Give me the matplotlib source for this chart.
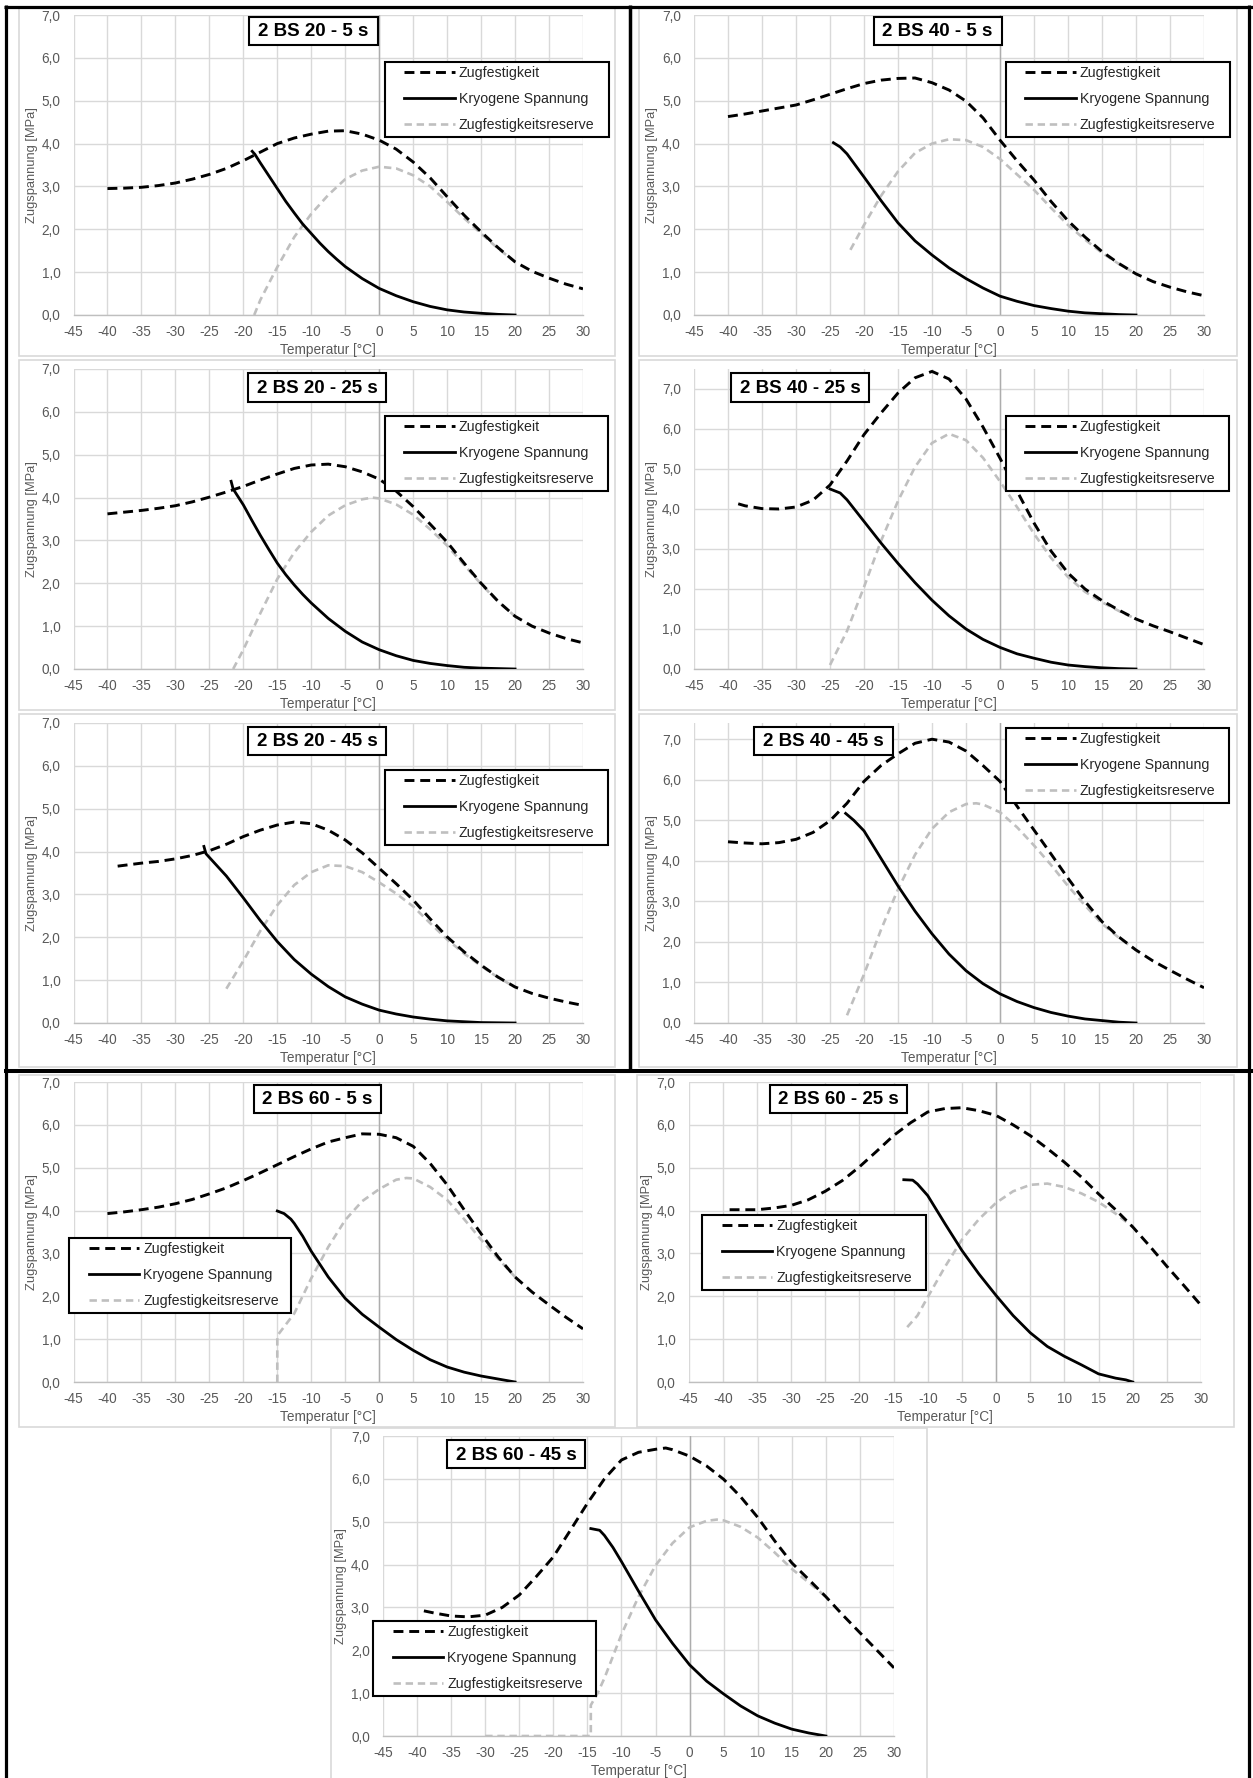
import matplotlib
matplotlib.use("Agg")
import matplotlib.pyplot as plt
from matplotlib.patches import Rectangle
from matplotlib.lines import Line2D
from matplotlib.legend_handler import HandlerLine2D

W, H = 1253, 1778
plt.rcParams["font.family"] = ["Liberation Sans", "DejaVu Sans"]

# -------------------------
# Data (temperature in degC, stress in MPa)
# ZF = Zugfestigkeit, KS = Kryogene Spannung, ZR = Zugfestigkeitsreserve
# -------------------------
T_ZF_STD = [-40, -37.5, -35, -32.5, -30, -27.5, -25, -22.5, -20, -17.5, -15, -12.5, -10,
            -7.5, -5, -2.5, 0, 2.5, 5, 7.5, 10, 12.5, 15, 17.5, 20, 22.5, 25, 27.5, 30]

# 2 BS 20 - 5 s
ZF_20_5 = [2.95, 2.96, 2.98, 3.02, 3.08, 3.17, 3.28, 3.42, 3.6, 3.8, 4.0, 4.13, 4.22,
           4.29, 4.3, 4.22, 4.08, 3.87, 3.57, 3.2, 2.76, 2.33, 1.94, 1.57, 1.24, 1.02, 0.86, 0.72, 0.61]
T_KS_20_5 = [-18.7, -18.3, -17.5, -16.25, -15, -13.75, -12.5, -11.25, -10, -8.75, -7.5, -6.25, -5,
             -2.5, 0, 2.5, 5, 7.5, 10, 12.5, 15, 17.5, 20]
KS_20_5 = [3.82, 3.75, 3.55, 3.25, 2.95, 2.65, 2.38, 2.12, 1.9, 1.68, 1.48, 1.3, 1.13,
           0.85, 0.62, 0.45, 0.31, 0.2, 0.12, 0.07, 0.04, 0.015, 0]
T_ZR_20_5 = [-18.4, -17.5, -15, -12.5, -10, -7.5, -5, -2.5, 0, 2.5, 5, 7.5, 10, 12.5, 15, 17.5, 20]
ZR_20_5 = [0, 0.35, 1.12, 1.82, 2.36, 2.8, 3.17, 3.37, 3.46, 3.42, 3.26, 3.0, 2.64, 2.26, 1.9, 1.55, 1.24]

# 2 BS 20 - 25 s
ZF_20_25 = [3.62, 3.66, 3.7, 3.75, 3.81, 3.9, 4.01, 4.13, 4.26, 4.41, 4.55, 4.68, 4.76,
            4.78, 4.72, 4.6, 4.43, 4.15, 3.79, 3.38, 2.96, 2.47, 2.0, 1.58, 1.23, 1.0, 0.84, 0.71, 0.61]
T_KS_20_25 = [-21.8, -21.5, -20, -18.75, -17.5, -16.25, -15, -13.75, -12.5, -11.25, -10, -7.5, -5,
              -2.5, 0, 2.5, 5, 7.5, 10, 12.5, 15, 17.5, 20]
KS_20_25 = [4.38, 4.2, 3.83, 3.47, 3.12, 2.79, 2.47, 2.2, 1.96, 1.74, 1.54, 1.18, 0.88,
            0.63, 0.45, 0.31, 0.2, 0.13, 0.08, 0.04, 0.02, 0.01, 0]
T_ZR_20_25 = [-21.5, -20, -17.5, -15, -12.5, -10, -7.5, -5, -2.5, -1, 0, 2.5, 5, 7.5, 10, 12.5, 15, 17.5, 20]
ZR_20_25 = [0, 0.45, 1.3, 2.1, 2.72, 3.2, 3.58, 3.82, 3.96, 4.0, 3.98, 3.84, 3.6, 3.26, 2.88, 2.43, 1.98, 1.57, 1.23]

# 2 BS 20 - 45 s
T_ZF_20_45 = [-38.5] + T_ZF_STD[2:]
ZF_20_45 = [3.66, 3.73, 3.77, 3.83, 3.91, 4.02, 4.17, 4.35, 4.5, 4.62, 4.69, 4.65,
            4.5, 4.27, 3.97, 3.61, 3.25, 2.87, 2.43, 2.01, 1.66, 1.35, 1.07, 0.84, 0.69, 0.58, 0.49, 0.41]
T_KS_20_45 = [-25.8, -25.5, -22.5, -20, -17.5, -15, -12.5, -10, -7.5, -5, -2.5, 0, 2.5, 5, 7.5, 10, 12.5, 15, 20]
KS_20_45 = [4.12, 3.95, 3.43, 2.92, 2.39, 1.9, 1.48, 1.14, 0.85, 0.61, 0.44, 0.3, 0.21, 0.14, 0.09, 0.05, 0.03, 0.01, 0]
T_ZR_20_45 = [-22.5, -20, -17.5, -15, -12.5, -10, -7.5, -5, -2.5, 0, 2.5, 5, 7.5, 10, 12.5, 15, 17.5, 20]
ZR_20_45 = [0.8, 1.45, 2.15, 2.75, 3.22, 3.52, 3.68, 3.66, 3.52, 3.28, 3.02, 2.72, 2.33, 1.95, 1.62, 1.33, 1.06, 0.84]

# 2 BS 40 - 5 s
ZF_40_5 = [4.63, 4.69, 4.76, 4.83, 4.9, 5.02, 5.15, 5.28, 5.4, 5.48, 5.52, 5.53, 5.42,
           5.25, 4.99, 4.6, 4.08, 3.6, 3.15, 2.65, 2.2, 1.82, 1.48, 1.2, 0.96, 0.78, 0.65, 0.54, 0.45]
T_KS_40_5 = [-24.5, -23.5, -22.5, -20, -17.5, -15, -12.5, -10, -7.5, -5, -2.5, 0, 2.5, 5, 7.5, 10, 12.5, 15, 17.5, 20]
KS_40_5 = [4.02, 3.92, 3.76, 3.22, 2.67, 2.15, 1.73, 1.4, 1.1, 0.85, 0.63, 0.44, 0.32, 0.22, 0.15, 0.09, 0.05, 0.03, 0.01, 0]
T_ZR_40_5 = [-22, -20, -17.5, -15, -12.5, -10, -7.5, -5, -2.5, 0, 2.5, 5, 7.5, 10, 12.5, 15, 17.5, 20]
ZR_40_5 = [1.52, 2.1, 2.78, 3.35, 3.78, 4.0, 4.1, 4.08, 3.92, 3.64, 3.28, 2.92, 2.5, 2.1, 1.76, 1.45, 1.19, 0.96]

# 2 BS 40 - 25 s
T_ZF_40_25 = [-38.5] + T_ZF_STD[1:]
ZF_40_25 = [4.13, 4.08, 4.01, 4.0, 4.05, 4.22, 4.6, 5.2, 5.86, 6.4, 6.9, 7.28, 7.44,
            7.25, 6.75, 6.05, 5.27, 4.45, 3.65, 2.95, 2.4, 2.0, 1.71, 1.47, 1.25, 1.08, 0.93, 0.77, 0.61]
T_KS_40_25 = [-25, -23.5, -22.5, -20, -17.5, -15, -12.5, -10, -7.5, -5, -2.5, 0, 2.5, 5, 7.5, 10, 12.5, 15, 17.5, 20]
KS_40_25 = [4.5, 4.4, 4.23, 3.69, 3.15, 2.64, 2.16, 1.72, 1.33, 1.0, 0.74, 0.54, 0.38, 0.27, 0.17, 0.1, 0.06, 0.03, 0.01, 0]
T_ZR_40_25 = [-25, -22.5, -20, -17.5, -15, -12.5, -10, -7.5, -5, -2.5, 0, 2.5, 5, 7.5, 10, 12.5, 15, 17.5, 20]
ZR_40_25 = [0.1, 0.95, 2.05, 3.2, 4.2, 5.05, 5.65, 5.88, 5.72, 5.28, 4.69, 4.05, 3.38, 2.78, 2.3, 1.93, 1.67, 1.45, 1.25]

# 2 BS 40 - 45 s
ZF_40_45 = [4.47, 4.44, 4.42, 4.45, 4.53, 4.7, 4.99, 5.42, 5.96, 6.35, 6.64, 6.9, 7.0,
            6.93, 6.71, 6.35, 5.96, 5.35, 4.76, 4.17, 3.57, 3.0, 2.5, 2.12, 1.8, 1.53, 1.3, 1.08, 0.87]
T_KS_40_45 = [-22.7, -21.5, -20, -17.5, -15, -12.5, -10, -7.5, -5, -2.5, 0, 2.5, 5, 7.5, 10, 12.5, 15, 17.5, 20]
KS_40_45 = [5.17, 5.0, 4.74, 4.06, 3.38, 2.76, 2.2, 1.7, 1.29, 0.97, 0.72, 0.53, 0.38, 0.26, 0.17, 0.1, 0.06, 0.02, 0]
T_ZR_40_45 = [-22.5, -20, -17.5, -15, -12.5, -10, -7.5, -5, -3.5, -2.5, 0, 2.5, 5, 7.5, 10, 12.5, 15, 17.5, 20]
ZR_40_45 = [0.19, 1.2, 2.3, 3.3, 4.15, 4.79, 5.2, 5.4, 5.42, 5.39, 5.2, 4.83, 4.38, 3.9, 3.38, 2.9, 2.45, 2.1, 1.8]

# 2 BS 60 - 5 s
ZF_60_5 = [3.93, 3.97, 4.02, 4.08, 4.16, 4.26, 4.39, 4.53, 4.7, 4.88, 5.07, 5.26, 5.44,
           5.6, 5.7, 5.79, 5.78, 5.7, 5.5, 5.1, 4.6, 4.02, 3.46, 2.92, 2.45, 2.1, 1.8, 1.51, 1.24]
T_KS_60_5 = [-15, -14, -13, -12.5, -11.25, -10, -7.5, -5, -2.5, 0, 2.5, 5, 7.5, 10, 12.5, 15, 17.5, 20]
KS_60_5 = [3.99, 3.93, 3.8, 3.7, 3.4, 3.05, 2.45, 1.95, 1.58, 1.28, 0.99, 0.74, 0.52, 0.35, 0.23, 0.14, 0.07, 0]
T_ZR_60_5 = [-15, -15, -12.5, -10, -7.5, -5, -2.5, 0, 2.5, 4, 5, 7.5, 10, 12.5, 15, 17.5, 20]
ZR_60_5 = [0, 1.08, 1.6, 2.42, 3.15, 3.78, 4.22, 4.5, 4.72, 4.76, 4.75, 4.55, 4.25, 3.8, 3.32, 2.88, 2.45]

# 2 BS 60 - 25 s
T_ZF_60_25 = [-39] + T_ZF_STD[1:]
ZF_60_25 = [4.02, 4.02, 4.02, 4.06, 4.12, 4.25, 4.45, 4.7, 5.02, 5.38, 5.75, 6.05, 6.3,
            6.38, 6.4, 6.33, 6.22, 6.0, 5.75, 5.45, 5.13, 4.78, 4.39, 4.02, 3.62, 3.17, 2.7, 2.25, 1.79]
T_KS_60_25 = [-13.5, -12.2, -11.5, -10, -7.5, -5, -2.5, 0, 2.5, 5, 7.5, 10, 12.5, 15, 17.5, 19, 20]
KS_60_25 = [4.72, 4.71, 4.62, 4.35, 3.7, 3.07, 2.52, 2.02, 1.55, 1.15, 0.83, 0.6, 0.4, 0.19, 0.09, 0.05, 0]
T_ZR_60_25 = [-13, -11.5, -10, -7.5, -5, -2.5, 0, 2.5, 5, 7.5, 10, 12.5, 15, 17.5, 20]
ZR_60_25 = [1.28, 1.55, 1.98, 2.68, 3.32, 3.8, 4.18, 4.45, 4.6, 4.63, 4.55, 4.4, 4.2, 3.93, 3.62]

# 2 BS 60 - 45 s
T_ZF_60_45 = [-39, -37.5, -35, -32.5, -30, -27.5, -25, -22.5, -20, -17.5, -15, -12.5, -10,
              -7.5, -5, -3.5, -2.5, 0, 2.5, 5, 7.5, 10, 12.5, 15, 17.5, 20, 22.5, 25, 27.5, 30]
ZF_60_45 = [2.92, 2.87, 2.8, 2.78, 2.82, 3.0, 3.29, 3.72, 4.18, 4.8, 5.43, 6.0, 6.44,
            6.62, 6.69, 6.72, 6.68, 6.53, 6.3, 5.99, 5.58, 5.1, 4.55, 4.04, 3.65, 3.25, 2.82, 2.41, 2.0, 1.59]
T_KS_60_45 = [-14.5, -13.2, -12.5, -11.25, -10, -7.5, -5, -2.5, 0, 2.5, 5, 7.5, 10, 12.5, 15, 17.5, 20]
KS_60_45 = [4.84, 4.8, 4.68, 4.4, 4.07, 3.38, 2.71, 2.16, 1.66, 1.28, 0.98, 0.7, 0.47, 0.3, 0.16, 0.07, 0]
T_ZR_60_45 = [-30, -14.5, -14.5, -13.5, -12.5, -10, -7.5, -5, -2.5, 0, 2.5, 4, 5, 7.5, 10, 12.5, 15, 17.5, 20]
ZR_60_45 = [0, 0, 0.72, 1.0, 1.35, 2.37, 3.25, 3.98, 4.5, 4.87, 5.02, 5.05, 5.03, 4.88, 4.63, 4.28, 3.9, 3.58, 3.25]

TITLES = ["2 BS 20 - 5 s", "2 BS 20 - 25 s", "2 BS 20 - 45 s",
          "2 BS 40 - 5 s", "2 BS 40 - 25 s", "2 BS 40 - 45 s",
          "2 BS 60 - 5 s", "2 BS 60 - 25 s", "2 BS 60 - 45 s"]
LEGEND_LABELS = ["Zugfestigkeit", "Kryogene Spannung", "Zugfestigkeitsreserve"]
X_TICKS = list(range(-45, 31, 5))
Y_TICKS = [0, 1, 2, 3, 4, 5, 6, 7]
X_LABEL = "Temperatur [°C]"
Y_LABEL = "Zugspannung [MPa]"

# -------------------------
# Layout in pixels of the composite (x0, y0, x1, y1), y measured downwards
# -------------------------
SERIES = [
    (T_ZF_STD, ZF_20_5, T_KS_20_5, KS_20_5, T_ZR_20_5, ZR_20_5),
    (T_ZF_STD, ZF_20_25, T_KS_20_25, KS_20_25, T_ZR_20_25, ZR_20_25),
    (T_ZF_20_45, ZF_20_45, T_KS_20_45, KS_20_45, T_ZR_20_45, ZR_20_45),
    (T_ZF_STD, ZF_40_5, T_KS_40_5, KS_40_5, T_ZR_40_5, ZR_40_5),
    (T_ZF_40_25, ZF_40_25, T_KS_40_25, KS_40_25, T_ZR_40_25, ZR_40_25),
    (T_ZF_STD, ZF_40_45, T_KS_40_45, KS_40_45, T_ZR_40_45, ZR_40_45),
    (T_ZF_STD, ZF_60_5, T_KS_60_5, KS_60_5, T_ZR_60_5, ZR_60_5),
    (T_ZF_60_25, ZF_60_25, T_KS_60_25, KS_60_25, T_ZR_60_25, ZR_60_25),
    (T_ZF_60_45, ZF_60_45, T_KS_60_45, KS_60_45, T_ZR_60_45, ZR_60_45),
]
Y_MAX = [7, 7, 7, 7, 7.5, 7.4, 7, 7, 7]
PLOT_BOX = [(73.5, 15, 583, 315), (73.5, 369, 583, 669), (73.5, 723, 583, 1023),
            (694, 15, 1204, 315), (694, 369, 1204, 669), (694, 723, 1204, 1023),
            (73.5, 1082, 583, 1382), (688.6, 1082, 1201, 1382), (383, 1436, 894, 1736)]
CHART_BOX = [(19, 7, 615, 356), (19, 360, 615, 710), (19, 714, 615, 1067),
             (639, 7, 1237, 356), (639, 360, 1237, 710), (639, 714, 1237, 1067),
             (19, 1075, 615, 1427), (637, 1075, 1234, 1427), (331, 1428, 927, 1790)]
TITLE_BOX = [(249, 17, 378, 45), (248, 373, 386, 402), (248, 727, 386, 755),
             (873.5, 17, 1001.5, 45), (731, 373, 869, 402), (754, 727, 892.5, 755),
             (254, 1085, 381, 1113), (770, 1085, 907, 1113), (447, 1440, 585, 1468)]
LEGEND_BOX = [(384.5, 62, 608.7, 137), (384.5, 416, 607.5, 491), (384.5, 770, 607.5, 845),
              (1005.5, 62, 1230, 137), (1005.5, 416, 1229, 491), (1005.5, 728, 1229, 802),
              (69, 1238, 291, 1312), (702, 1215, 925.6, 1291), (373, 1621, 595.6, 1696)]

GRID = "#D9D9D9"
TXT = "#595959"
RESERVE = "#BFBFBF"
LEG_FS = 10.2


def fig_rect(b):
    x0, y0, x1, y1 = b
    return [x0 / W, 1 - y1 / H, (x1 - x0) / W, (y1 - y0) / H]


fig = plt.figure(figsize=(W / 100, H / 100), dpi=100)

bg = fig.add_axes([0, 0, 1, 1])
bg.set_xlim(0, W)
bg.set_ylim(H, 0)
bg.axis("off")

for i in range(9):
    cx0, cy0, cx1, cy1 = CHART_BOX[i]
    bg.add_patch(Rectangle((cx0, cy0), cx1 - cx0, cy1 - cy0, facecolor="white",
                           edgecolor=GRID, lw=1.2))

    box = PLOT_BOX[i]
    ax = fig.add_axes(fig_rect(box))
    ax.patch.set_alpha(0)
    t_zf, zf, t_ks, ks, t_zr, zr = SERIES[i]
    l1, = ax.plot(t_zf, zf, color="black", lw=2.1, ls=(0, (3.4, 2.0)), label=LEGEND_LABELS[0], zorder=3)
    l2, = ax.plot(t_ks, ks, color="black", lw=2.0, label=LEGEND_LABELS[1], zorder=4)
    l3, = ax.plot(t_zr, zr, color=RESERVE, lw=1.9, ls=(0, (2.8, 1.8)), label=LEGEND_LABELS[2], zorder=2)

    ax.set_xlim(-45, 30)
    ax.set_ylim(0, Y_MAX[i])
    ax.set_xticks(X_TICKS)
    ax.set_xticklabels([str(t) for t in X_TICKS])
    ax.set_yticks(Y_TICKS)
    ax.set_yticklabels([f"{v:.1f}".replace(".", ",") for v in Y_TICKS])
    ax.grid(True, color=GRID, lw=1.0)
    ax.set_axisbelow(True)
    for side in ["top", "right", "left"]:
        ax.spines[side].set_visible(False)
    ax.spines["bottom"].set_color("#BFBFBF")
    ax.spines["bottom"].set_linewidth(1.0)
    ax.axvline(0, color="#ADADAD", lw=1.0, zorder=1)
    ax.tick_params(length=0, labelsize=9.8, colors=TXT)
    ax.tick_params(axis="y", pad=9.5)
    ax.tick_params(axis="x", pad=7)

    w_px = box[2] - box[0]
    h_px = box[3] - box[1]
    ax.set_xlabel(X_LABEL, fontsize=9.8, color=TXT, va="center")
    ax.xaxis.set_label_coords(0.5, -35 / h_px)
    ax.set_ylabel(Y_LABEL, fontsize=9.3, color=TXT, ha="center", va="center")
    ax.yaxis.set_label_coords(-42 / w_px, 0.5)

    # legend box as in the original: line samples indented from the frame
    lx0, ly0, lx1, ly1 = LEGEND_BOX[i]
    leg = ax.legend(handles=[l1, l2, l3], loc="upper left", mode="expand",
                    bbox_to_anchor=(lx0 / W, 1 - ly1 / H, (lx1 - lx0) / W, (ly1 - ly0) / H),
                    bbox_transform=fig.transFigure, borderaxespad=0, borderpad=0.3,
                    handlelength=4.65, handletextpad=0.28, labelspacing=0.85,
                    handler_map={Line2D: HandlerLine2D(xpad=1.1)},
                    fontsize=LEG_FS, fancybox=False, framealpha=1, edgecolor="black")
    leg.get_frame().set_linewidth(1.5)
    for txt in leg.get_texts():
        txt.set_color("#262626")

fg = fig.add_axes([0, 0, 1, 1])
fg.set_xlim(0, W)
fg.set_ylim(H, 0)
fg.axis("off")

for i in range(9):
    tx0, ty0, tx1, ty1 = TITLE_BOX[i]
    fg.add_patch(Rectangle((tx0, ty0), tx1 - tx0, ty1 - ty0, facecolor="white",
                           edgecolor="black", lw=1.5))
    fg.text((tx0 + tx1) / 2, (ty0 + ty1) / 2 + 1, TITLES[i], ha="center", va="center",
            fontsize=13.5, fontweight="bold", color="black")

# black frame of the composite
fg.plot([5.5, 5.5], [5, H], color="black", lw=2.3, solid_capstyle="butt")
fg.plot([4, W], [6.5, 6.5], color="black", lw=2.3, solid_capstyle="butt")
fg.plot([W - 4, W - 4], [5, H], color="black", lw=2.3, solid_capstyle="butt")
fg.plot([630, 630], [5, 1071], color="black", lw=2.5, solid_capstyle="butt")
fg.plot([4, W], [1071, 1071], color="black", lw=2.9, solid_capstyle="butt")

fig.savefig("out.png", dpi=100)
